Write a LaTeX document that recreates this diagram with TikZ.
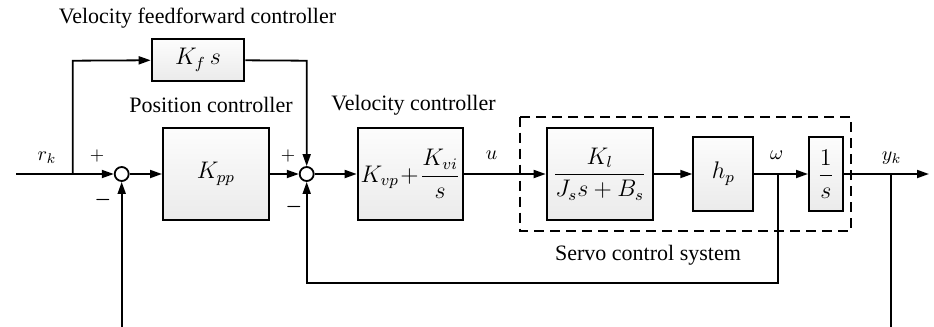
\documentclass[tikz,border=0pt]{standalone}
\usepackage{amsmath}
\usepackage{fontspec}
\setmainfont{Liberation Serif}
\usetikzlibrary{arrows.meta,shadings}
\begin{document}
\begin{tikzpicture}[x=0.5pt,y=-0.5pt,
  line width=0.9pt,
  sig/.style={-{Triangle[length=6pt,width=4pt]}},
  blk/.style={draw,line width=1pt,top color=gray!2,bottom color=gray!16,inner sep=0pt,font=\large},
  sumj/.style={draw,circle,line width=0.9pt,fill=white,minimum size=7pt,inner sep=0pt},
  lbl/.style={font=\fontsize{11}{13}\selectfont},
  sgn/.style={inner sep=0pt,font=\small}]
\useasboundingbox (0,0) rectangle (934,327);
% blocks
\node[blk,minimum width=46.3pt,minimum height=20.7pt] (kf) at (198,60) {$K_f\,s$};
\node[blk,minimum width=53pt,minimum height=46pt] (kpp) at (216,174) {$K_{pp}$};
\node[blk,minimum width=52.8pt,minimum height=46pt] (kv) at (410.5,174) {$K_{vp}\!+\!\dfrac{K_{vi}}{s}$};
\node[blk,minimum width=53pt,minimum height=46pt] (kl) at (599.7,174) {$\dfrac{\;K_l\;}{J_s s+B_s}$};
\node[blk,minimum width=30pt,minimum height=37.3pt] (hp) at (723.3,174) {$h_p$};
\node[blk,minimum width=16.8pt,minimum height=37.3pt] (int) at (825.8,174) {$\dfrac{1}{s}$};
\node[sumj] (s1) at (121.7,174) {};
\node[sumj] (s2) at (306.7,174) {};
% dashed box
\draw[dashed,line width=1pt,dash pattern=on 5pt off 3pt] (520,116.7) rectangle (851,230.7);
% coordinates
\coordinate (in) at (16,174);
\coordinate (br) at (72.7,174);
\coordinate (ffc) at (72.7,60.7);
\coordinate (ffr) at (306.7,60.7);
\coordinate (wb) at (777.7,174);
\coordinate (wd) at (777.7,283);
\coordinate (wl) at (306.7,283);
\coordinate (yb) at (890.7,174);
\coordinate (yd) at (890.7,327);
\coordinate (out) at (929,174);
\coordinate (fb1) at (121.7,327);
% connectors
\draw[sig] (in) -- (s1);
\draw[sig] (br) -- (ffc) -- (kf);
\draw[sig] (kf) -- (ffr) -- (s2);
\draw[sig] (s1) -- (kpp);
\draw[sig] (kpp) -- (s2);
\draw[sig] (s2) -- (kv);
\draw[sig] (kv) -- (kl);
\draw[sig] (kl) -- (hp);
\draw[sig] (hp) -- (int);
\draw[sig] (int) -- (out);
\draw[sig] (wb) -- (wd) -- (wl) -- (s2);
\draw (yb) -- (yd);
\draw[sig] (fb1) -- (s1);
% labels
\node[lbl] (t1) at (197.5,18) {Velocity feedforward controller};
\node[lbl] (t2) at (211,105) {Position controller};
\node[lbl] (t3) at (413.5,105) {Velocity controller};
\node[lbl] (t4) at (648,255) {Servo control system};
\node (rk) at (47,158) {$r_k$};
\node (u) at (491.7,155) {$u$};
\node (w) at (776.7,155) {$\omega$};
\node (yk) at (891.7,158) {$y_k$};
\node[sgn] (p1) at (97,156) {$+$};
\node[sgn] (p2) at (288,156) {$+$};
\node[sgn] (m1) at (103,200) {$\boldsymbol{-}$};
\node[sgn] (m2) at (294,207) {$\boldsymbol{-}$};
\end{tikzpicture}
\end{document}
